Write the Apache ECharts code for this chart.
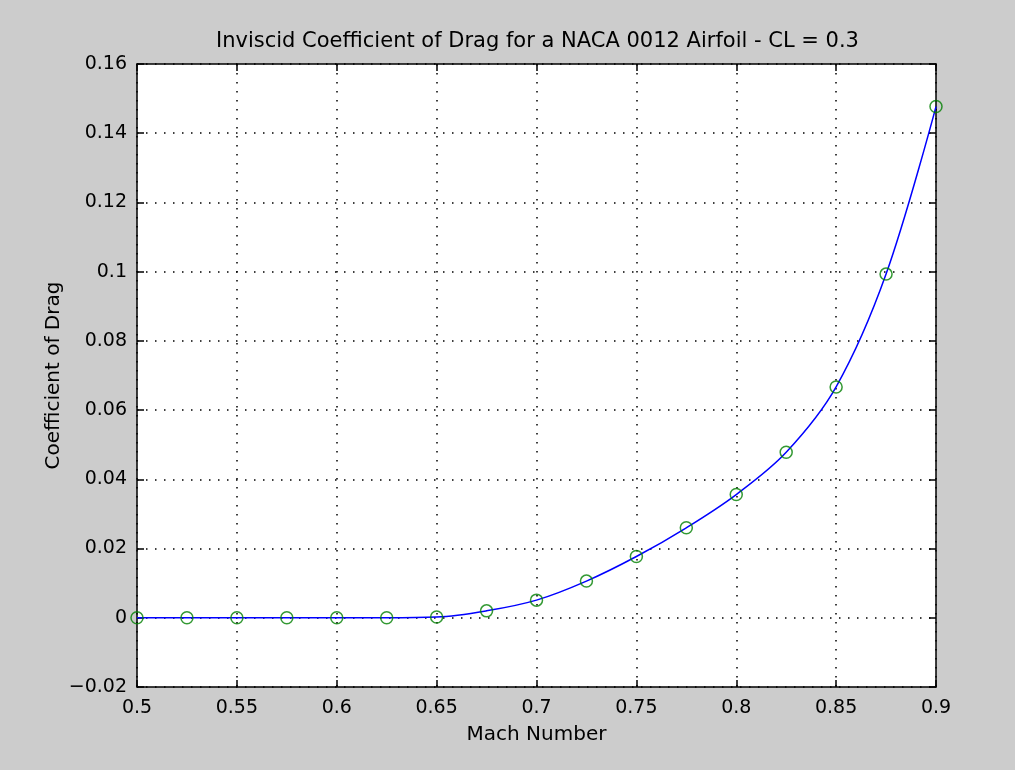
<!DOCTYPE html>
<html>
<head>
<meta charset="utf-8">
<script src="https://cdn.jsdelivr.net/npm/echarts@6/dist/echarts.min.js"></script>
<style>
  html, body { margin: 0; padding: 0; background: #cccccc; }
  #chart { width: 1015px; height: 770px; }
</style>
</head>
<body>
<div id="chart"></div>
<script>
const machNumbers = [0.5, 0.525, 0.55, 0.575, 0.6, 0.625, 0.65, 0.675, 0.7, 0.725, 0.75, 0.775, 0.8, 0.825, 0.85, 0.875, 0.9]
const dragCoeffs = [0, 0, 0, 0, 0, 0, 0.0002, 0.002, 0.0051, 0.0106, 0.0177, 0.026, 0.0356, 0.0478, 0.0667, 0.0993, 0.1477]

const xTicks = [0.5, 0.55, 0.6, 0.65, 0.7, 0.75, 0.8, 0.85, 0.9]
const yTicks = [-0.02, 0, 0.02, 0.04, 0.06, 0.08, 0.1, 0.12, 0.14, 0.16]

const points = machNumbers.map((m, i) => [m, dragCoeffs[i]])
const font = "DejaVu Sans"

const chart = echarts.init(document.getElementById("chart"))

function axisBase(show) {
  return {
    axisLine: { show: true, onZero: false, lineStyle: { color: "#000", width: 1.5 } },
    axisTick: { show: true, inside: true, length: 7, lineStyle: { color: "#000", width: 1.5 } },
    axisLabel: { show: show, color: "#000", fontFamily: font, fontSize: 19 },
    splitLine: { show: false },
  }
}

const gridDots = { color: "#000", width: 1.5, type: [1.5, 7.5] }

chart.setOption({
  backgroundColor: "#cccccc",
  animation: false,
  title: {
    text: "Inviscid Coefficient of Drag for a NACA 0012 Airfoil - CL = 0.3",
    left: 211,
    top: 26,
    textStyle: { color: "#000", fontFamily: font, fontSize: 21, fontWeight: "normal" },
  },
  grid: { left: 137, right: 79, top: 64, bottom: 83, show: true, backgroundColor: "#fff", borderWidth: 0 },
  xAxis: [
    {
      type: "value",
      min: xTicks[0],
      max: xTicks[xTicks.length - 1],
      interval: 0.05,
      ...axisBase(true),
      axisLabel: { color: "#000", fontFamily: font, fontSize: 19, margin: 12, formatter: (v) => String(+v.toFixed(3)) },
      splitLine: { show: true, lineStyle: gridDots },
      name: "Mach Number",
      nameLocation: "middle",
      nameGap: 38,
      nameMoveOverlap: false,
      nameTextStyle: { color: "#000", fontFamily: font, fontSize: 20 },
    },
    {
      type: "value",
      position: "top",
      min: xTicks[0],
      max: xTicks[xTicks.length - 1],
      interval: 0.05,
      ...axisBase(false),
    },
  ],
  yAxis: [
    {
      type: "value",
      min: yTicks[0],
      max: yTicks[yTicks.length - 1],
      interval: 0.02,
      ...axisBase(true),
      axisLabel: {
        color: "#000",
        fontFamily: font,
        fontSize: 19,
        margin: 10,
        formatter: (v) => {
          const s = String(+v.toFixed(3))
          return s.startsWith("-") ? "\u2212" + s.slice(1) : s
        },
      },
      splitLine: { show: true, lineStyle: gridDots },
      name: "Coefficient of Drag",
      nameLocation: "middle",
      nameGap: 73,
      nameMoveOverlap: false,
      nameRotate: 90,
      nameTextStyle: { color: "#000", fontFamily: font, fontSize: 20 },
    },
    {
      type: "value",
      position: "right",
      min: yTicks[0],
      max: yTicks[yTicks.length - 1],
      interval: 0.02,
      ...axisBase(false),
    },
  ],
  series: [
    {
      type: "line",
      data: points,
      smooth: 0.35,
      showSymbol: false,
      lineStyle: { color: "#0000ff", width: 1.5 },
      z: 3,
    },
    {
      type: "scatter",
      data: points,
      symbol: "circle",
      symbolSize: 12,
      itemStyle: { color: "rgba(0,0,0,0)", borderColor: "#008000", borderWidth: 1.5 },
      z: 4,
    },
  ],
})
</script>
</body>
</html>
